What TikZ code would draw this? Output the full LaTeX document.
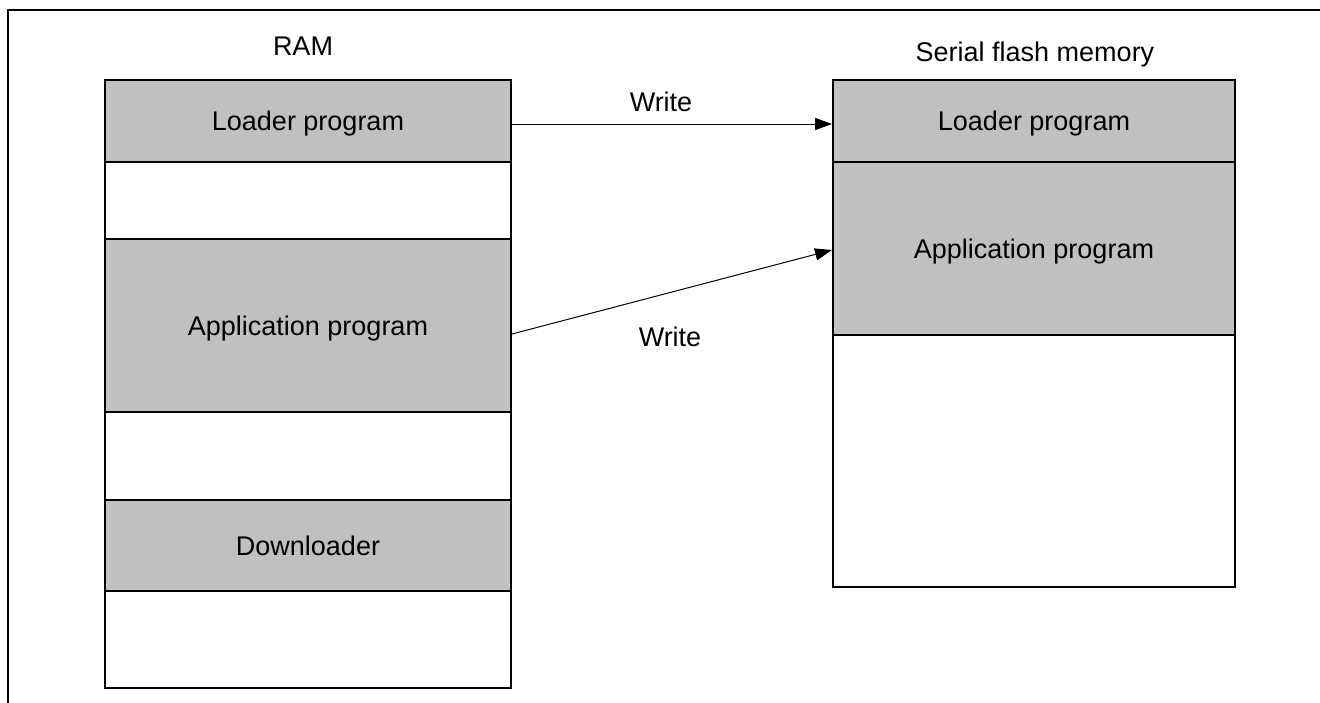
\documentclass[tikz,border=0pt]{standalone}
\usepackage{fontspec}
\setmainfont{Liberation Sans}
\usetikzlibrary{arrows.meta}
\definecolor{secgray}{HTML}{C0C0C0}
\begin{document}
\begin{tikzpicture}[x=1pt,y=-1pt,
  lbl/.style={font=\fontsize{27}{32}\selectfont, inner sep=0pt, anchor=base},
  sect/.style={draw, line width=2pt, inner sep=0pt, anchor=north west,
    font=\fontsize{27}{32}\selectfont, text height=19.5pt, text depth=0pt},
  ramsect/.style={sect, minimum width=406pt},
  flashsect/.style={sect, minimum width=402pt},
  filled/.style={fill=secgray},
  wr/.style={line width=1pt, -{Triangle[length=17pt,width=12pt]}}]
\useasboundingbox (0,0) rectangle (1320,702);
\draw[line width=2pt] (8,703) -- (8,10) -- (1321,10);

% RAM
\node[lbl] (ramlbl) at (303,55) {RAM};
\node[ramsect, filled, minimum height=82pt]  (r1) at (104,79)  {Loader program};
\node[ramsect, minimum height=77pt]          (r2) at (104,161) {};
\node[ramsect, filled, minimum height=173pt] (r3) at (104,238) {Application program};
\node[ramsect, minimum height=88pt]          (r4) at (104,411) {};
\node[ramsect, filled, minimum height=91pt]  (r5) at (104,499) {Downloader};
\node[ramsect, minimum height=97pt]          (r6) at (104,590) {};

% Serial flash
\node[lbl] (flashlbl) at (1035,61) {Serial flash memory};
\node[flashsect, filled, minimum height=82pt]  (f1) at (832,79)  {Loader program};
\node[flashsect, filled, minimum height=173pt] (f2) at (832,161) {Application program};
\node[flashsect, minimum height=252pt]         (f3) at (832,334) {};

% Arrows
\draw[wr] ([yshift=-3pt]r1.east) -- ([yshift=-3pt]f1.west);
\draw[wr] ([yshift=-8.5pt]r3.east) -- ([yshift=-1.5pt]f2.west);
\node[lbl] (w1) at (661,111) {Write};
\node[lbl] (w2) at (670,346) {Write};
\end{tikzpicture}
\end{document}
